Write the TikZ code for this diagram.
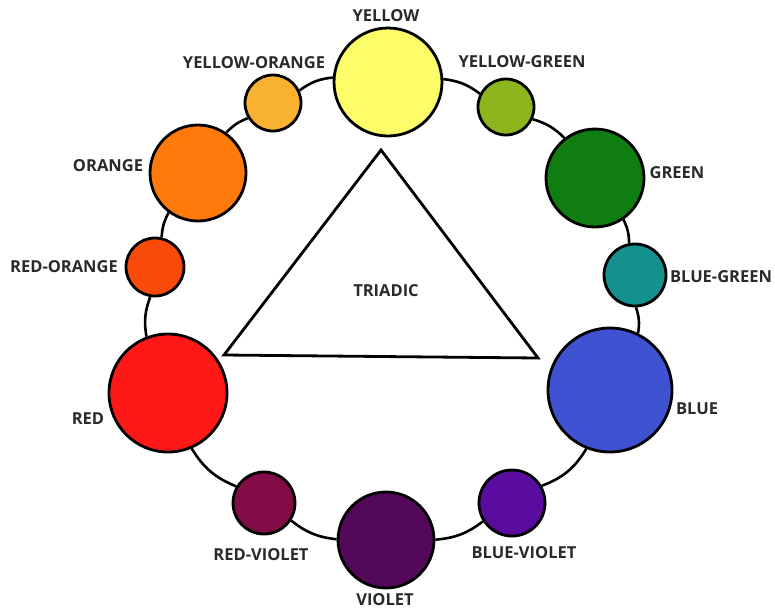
\documentclass[tikz,border=0pt]{standalone}
\usepackage{fontspec}
\setmainfont{Open Sans}
\definecolor{cYellow}{HTML}{FDFD6A}
\definecolor{cYO}{HTML}{F8B230}
\definecolor{cYG}{HTML}{8DB51E}
\definecolor{cGreen}{HTML}{0F7D12}
\definecolor{cBG}{HTML}{14908F}
\definecolor{cBlue}{HTML}{3F53D2}
\definecolor{cBV}{HTML}{5A0CA0}
\definecolor{cViolet}{HTML}{54085A}
\definecolor{cRV}{HTML}{820C45}
\definecolor{cRed}{HTML}{FF1818}
\definecolor{cRO}{HTML}{FA4A0A}
\definecolor{cOrange}{HTML}{FF7A0A}
\definecolor{textgray}{HTML}{2A2A2A}
\begin{document}
\begin{tikzpicture}[x=1pt,y=-1pt,
  ball/.style={circle, draw=black, line width=2.8pt, inner sep=0pt, minimum size=#1},
  lab/.style={font=\bfseries\fontsize{16.5}{16.5}\selectfont, text=textgray, inner sep=0pt},
  ring/.style={line width=2.6pt, draw=black},
  tri/.style={line width=2.8pt, draw=black, line join=miter}]
\useasboundingbox[fill=white] (0,0) rectangle (775,611);

% colour balls
\node[ball=108pt, fill=cYellow] (Y)  at (388,82)  {};
\node[ball=56pt,  fill=cYG]     (YG) at (506,107) {};
\node[ball=98pt,  fill=cGreen]  (G)  at (595,178) {};
\node[ball=62pt,  fill=cBG]     (BG) at (635,275) {};
\node[ball=124pt, fill=cBlue]   (B)  at (610,390) {};
\node[ball=66pt,  fill=cBV]     (BV) at (512,503) {};
\node[ball=96pt,  fill=cViolet] (V)  at (386,540) {};
\node[ball=62pt,  fill=cRV]     (RV) at (264,503) {};
\node[ball=118pt, fill=cRed]    (R)  at (168,393) {};
\node[ball=58pt,  fill=cRO]     (RO) at (155,267) {};
\node[ball=96pt,  fill=cOrange] (O)  at (198,173) {};
\node[ball=56pt,  fill=cYO]     (YO) at (273,103) {};

% ring connectors
\draw[ring] (Y)  to[bend left=15] (YG);
\draw[ring] (YG) to[bend left=14] (G);
\draw[ring] (G)  to[bend left=12] (BG);
\draw[ring] (BG) to[bend left=14] (B);
\draw[ring] (B)  to[bend left=19] (BV);
\draw[ring] (BV) to[bend left=16] (V);
\draw[ring] (V)  to[bend left=16] (RV);
\draw[ring] (RV) to[bend left=18] (R);
\draw[ring] (R)  to[bend left=15] (RO);
\draw[ring] (RO) to[bend left=12] (O);
\draw[ring] (O)  to[bend left=12] (YO);
\draw[ring] (YO) to[bend left=15] (Y);

% triangle
\coordinate (ta) at (381,150);
\coordinate (tl) at (224,355);
\coordinate (tr) at (538,358);
\draw[tri] (ta) -- (tl) -- (tr) -- cycle;
\node[lab] (triadic) at (386,291) {TRIADIC};

% labels
\node[lab] (lY)  at (386,16)  {YELLOW};
\node[lab] (lYO) at (254,63)  {YELLOW-ORANGE};
\node[lab] (lYG) at (522,62)  {YELLOW-GREEN};
\node[lab] (lO)  at (108,166) {ORANGE};
\node[lab] (lRO) at (64,267)  {RED-ORANGE};
\node[lab] (lG)  at (677,173) {GREEN};
\node[lab] (lBG) at (721,277) {BLUE-GREEN};
\node[lab] (lR)  at (88,419)  {RED};
\node[lab] (lRV) at (261,555) {RED-VIOLET};
\node[lab] (lB)  at (697,409) {BLUE};
\node[lab] (lBV) at (524,553) {BLUE-VIOLET};
\node[lab] (lV)  at (385,600) {VIOLET};
\end{tikzpicture}
\end{document}
